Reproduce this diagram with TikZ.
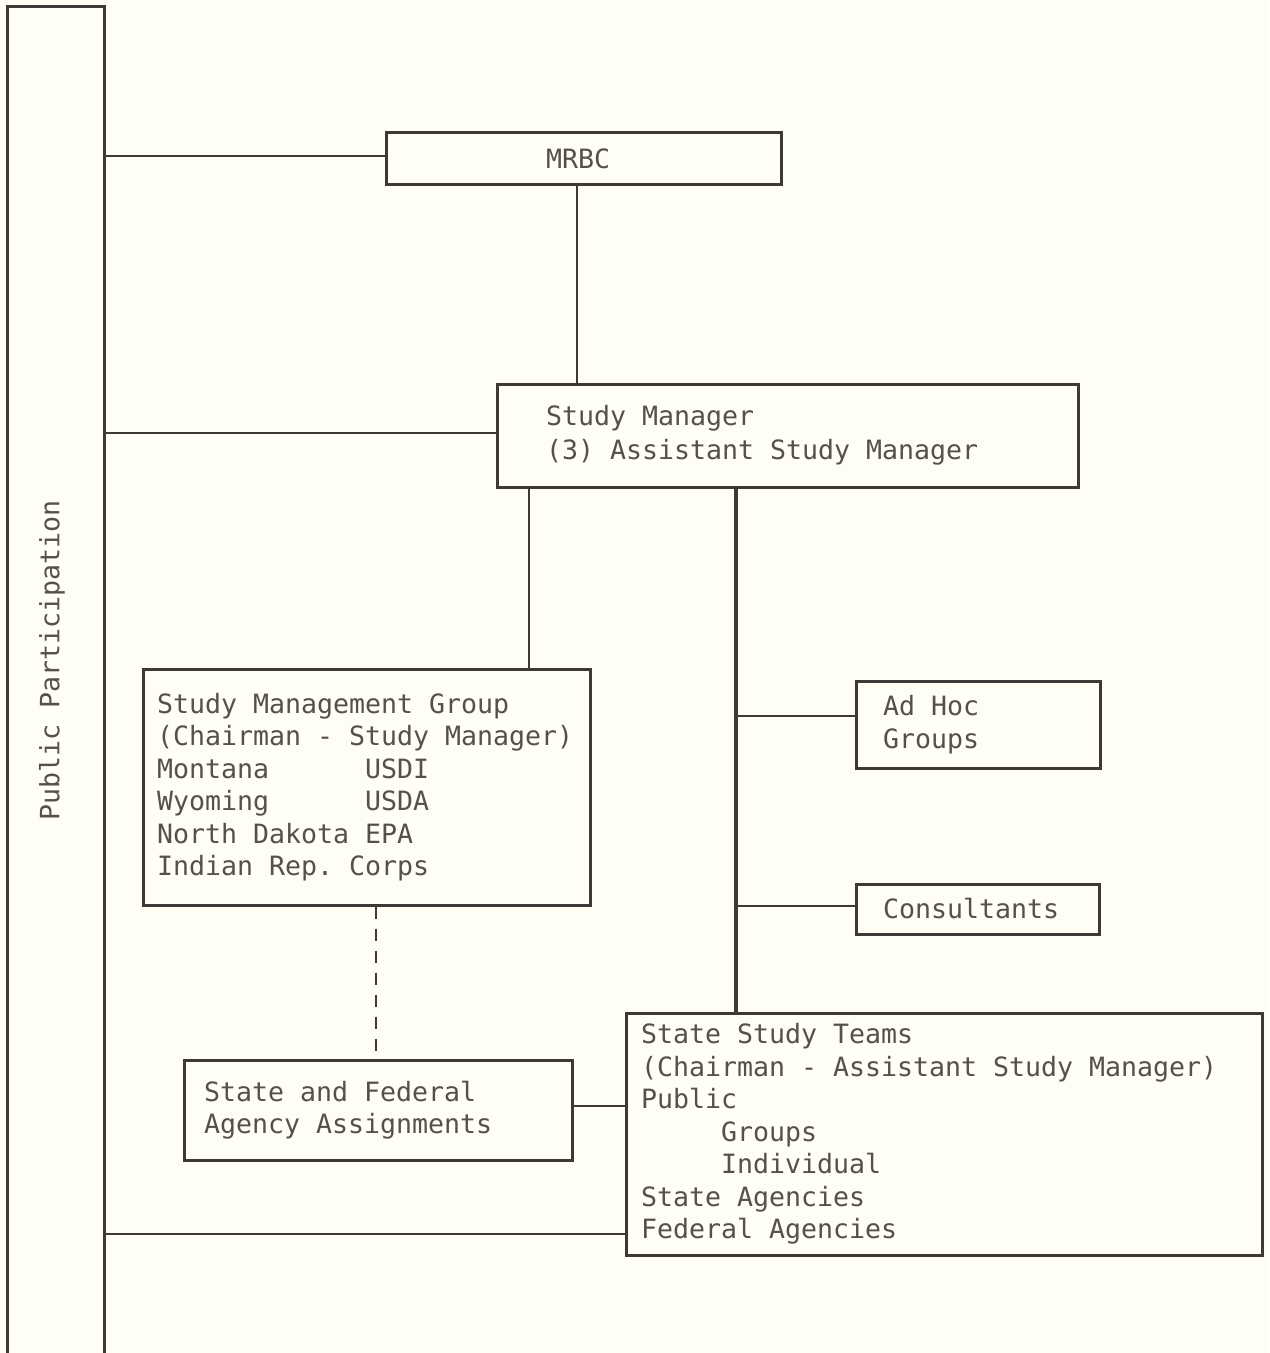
\documentclass[tikz,border=0pt]{standalone}
\usepackage{fontspec}
\setmonofont{DejaVu Sans Mono}
\definecolor{paper}{RGB}{254,254,244}
\definecolor{ink}{RGB}{62,56,54}
\definecolor{txt}{RGB}{84,80,78}
\newcommand\fixsp{\spaceskip=0pt\xspaceskip=0pt\relax}
\begin{document}
\begin{tikzpicture}[x=0.5pt,y=-0.5pt,
  every node/.style={font=\ttfamily\fontsize{13.29}{16.25}\selectfont, text=txt},
  orgbox/.style={draw=ink, line width=1.5pt, inner ysep=0pt, align=left},
  link/.style={draw=ink, line width=1pt},
  trunk/.style={draw=ink, line width=2pt},
  dashlink/.style={draw=ink, line width=1pt, dash pattern=on 6pt off 5pt}]
\fill[paper] (0,0) rectangle (1269,1353);
\useasboundingbox (0,0) rectangle (1269,1353);

% Public participation bar
\node[draw=ink, line width=1.5pt, minimum width=48.5pt, minimum height=681.5pt, inner sep=0pt] (pp) at (55.5,688.5) {};
\node[rotate=90] (pptext) at (52,660) {Public Participation};

% boxes
\node[orgbox, minimum width=197.5pt, minimum height=26pt, align=center] (mrbc) at (583.5,159) {MRBC\kern5.5pt};
\node[orgbox, minimum width=290.5pt, minimum height=51.5pt, inner xsep=24.5pt, text width=241.5pt,
      font=\ttfamily\fontsize{13.29}{17}\selectfont] (sm) at (787.5,435.5)
  {\fixsp Study Manager\\(3) Assistant Study Manager};
\node[orgbox, minimum width=223.5pt, minimum height=118pt, inner xsep=7pt, text width=209.5pt] (smg) at (366.5,787)
  {\fixsp Study Management Group\\(Chairman - Study Manager)\\Montana~~~~~~USDI\\Wyoming~~~~~~USDA\\North Dakota EPA\\Indian Rep. Corps};
\node[orgbox, minimum width=122pt, minimum height=43.5pt, inner xsep=13.5pt, text width=95pt] (adhoc) at (978,724.5)
  {\fixsp Ad Hoc\\Groups};
\node[orgbox, minimum width=121.5pt, minimum height=25pt, inner xsep=13.5pt, text width=94.5pt] (cons) at (977.5,909)
  {\fixsp Consultants};
\node[orgbox, minimum width=194pt, minimum height=50pt, inner xsep=10pt, text width=174pt] (sf) at (378,1110)
  {\fixsp State and Federal\\Agency Assignments};
\node[orgbox, minimum width=318pt, minimum height=121pt, inner xsep=7.5pt, text width=303pt] (sst) at (944,1134)
  {\fixsp State Study Teams\\(Chairman - Assistant Study Manager)\\Public\\~~~~~Groups\\~~~~~Individual\\State Agencies\\Federal Agencies};

% connectors to public participation
\draw[link] ([yshift=1.5pt]mrbc.west) -- ([yshift=1.5pt]mrbc.west -| pp.east);
\draw[link] ([yshift=1.25pt]sm.west) -- ([yshift=1.25pt]sm.west -| pp.east);
\draw[link] ([yshift=11.5pt]sst.south west) -- ([yshift=11.5pt]sst.south west -| pp.east);

% hierarchy
\coordinate (mr) at ([xshift=-3.25pt]mrbc.south);
\draw[link] (mr) -- (mr |- sm.north);
\coordinate (sa) at ([xshift=16.5pt]sm.south west);
\draw[link] (sa) -- (sa |- smg.north);
\coordinate (sb) at ([xshift=120pt]sm.south west);
\draw[trunk] (sb) -- (sb |- sst.north);
\draw[link] ([yshift=4.25pt]adhoc.west) -- ([yshift=4.25pt]adhoc.west -| sb);
\draw[link] ([yshift=1.5pt]cons.west) -- ([yshift=1.5pt]cons.west -| sb);
\coordinate (dtop) at ([xshift=-1pt]sf.north);
\draw[dashlink] (dtop |- smg.south) -- (dtop);
\draw[link] ([yshift=2pt]sf.east) -- ([yshift=2pt]sf.east -| sst.west);
\end{tikzpicture}
\end{document}
